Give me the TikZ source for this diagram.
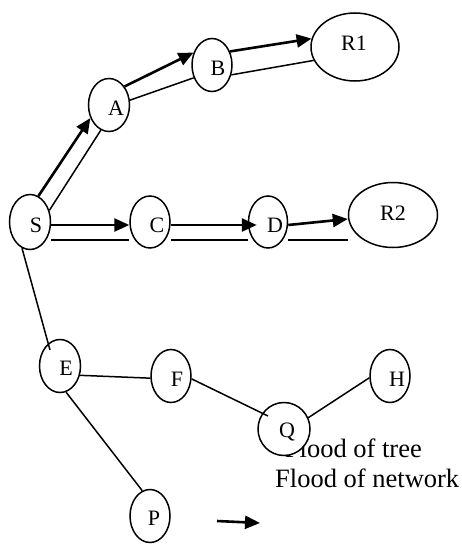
\documentclass[tikz,border=0pt]{standalone}
\usepackage{fontspec}
\setmainfont{Liberation Serif}
\usetikzlibrary{arrows.meta,shapes.geometric}
\begin{document}
\begin{tikzpicture}[x=1pt,y=-1pt,
 el/.style={draw,ellipse,fill=white,line width=1.5pt,inner sep=0pt},
 lbl/.style={inner sep=0pt,font=\fontsize{22}{22}\selectfont},
 thinedge/.style={line width=1.5pt},
 arr/.style={line width=2.6pt,-{Triangle[length=15pt,width=13pt]}},
 leg/.style={inner sep=0pt,font=\fontsize{26.5}{30}\selectfont}]
\useasboundingbox (0,0) rectangle (462,546);
% legend text
\node[leg,anchor=base east] (t1) at (422,457) {Flood of tree};
\node[leg,anchor=base west] (t2) at (275,487) {Flood of network};
% ellipses
\node[el,minimum width=41pt,minimum height=53pt] (A) at (109,105) {};
\node[el,minimum width=40pt,minimum height=53pt] (B) at (212,65) {};
\node[el,minimum width=88pt,minimum height=68pt] (R1) at (355,47) {};
\node[el,minimum width=41pt,minimum height=55pt] (S) at (30,222) {};
\node[el,minimum width=40pt,minimum height=52pt] (C) at (150,222) {};
\node[el,minimum width=39pt,minimum height=52pt] (D) at (268,222) {};
\node[el,minimum width=89pt,minimum height=65pt] (R2) at (393,215) {};
\node[el,minimum width=41pt,minimum height=53pt] (E) at (60,366) {};
\node[el,minimum width=40pt,minimum height=53pt] (F) at (171,376) {};
\node[el,minimum width=40pt,minimum height=53pt] (H) at (390,376) {};
\node[el,minimum width=52pt,minimum height=53pt] (Q) at (284,429) {};
\node[el,minimum width=40pt,minimum height=53pt] (P) at (150,516) {};
% labels
\node[lbl] (Al) at (116,108) {A};
\node[lbl] (Bl) at (218,68) {B};
\node[lbl] (R1l) at (354,43) {R1};
\node[lbl] (Sl) at (36,225) {S};
\node[lbl] (Cl) at (157,225) {C};
\node[lbl] (Dl) at (275,225) {D};
\node[lbl] (R2l) at (393,213) {R2};
\node[lbl] (El) at (66,368) {E};
\node[lbl] (Fl) at (177,379) {F};
\node[lbl] (Hl) at (397,379) {H};
\node[lbl] (Ql) at (287,432) {Q};
\node[lbl] (Pl) at (154,518) {P};
% edges
\draw[arr] (S.72) -- (A.215);
\draw[thinedge] (S.31) -- (A.252);
\draw[arr] (A.50) -- (B.146);
\draw[thinedge] (A.13) -- (B.215);
\draw[arr] (B.37) -- (R1.169);
\draw[thinedge] (B.-27) -- (R1.198);
\draw[arr] ([yshift=-3pt]S.east) -- ([yshift=-3pt]S.east -| C.west);
\draw[arr,shorten >=-9pt] ([yshift=-3pt]C.east) -- ([yshift=-3pt]C.east -| D.west);
\draw[arr] ([yshift=-3pt]D.east) -- ([yshift=-4pt]R2.west);
\draw[thinedge] ([yshift=-18pt]S.east) -- ([yshift=-18pt]S.east -| C.west);
\draw[thinedge] ([yshift=-18pt]C.east) -- ([yshift=-18pt]C.east -| D.west);
\draw[thinedge] ([yshift=-18pt]D.east) -- ([yshift=-18pt]D.east -| R2.west);
\draw[thinedge] (S.253) -- ([xshift=-10pt,yshift=16pt]E.center);
\draw[thinedge] (E.-25) -- (F.186);
\draw[thinedge] (E.283) -- (P.107);
\draw[thinedge] (F.-8) -- ([xshift=-16pt,yshift=13pt]Q.center);
\draw[thinedge] (Q.25) -- (H.185);
% legend arrow
\coordinate (la1) at (217,521);
\coordinate (la2) at (260,523);
\draw[arr] (la1) -- (la2);
\end{tikzpicture}
\end{document}
